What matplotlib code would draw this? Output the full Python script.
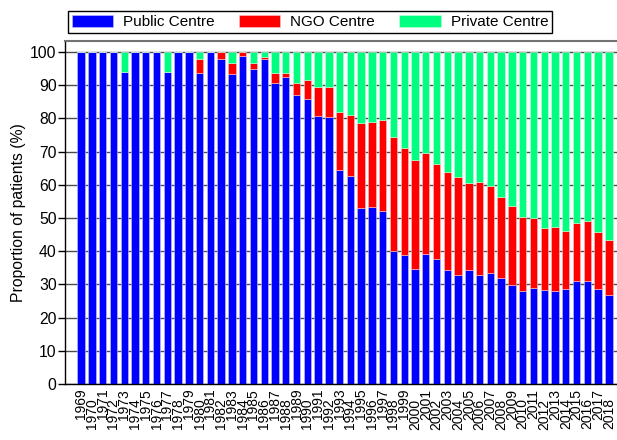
import matplotlib
matplotlib.use("Agg")
import matplotlib.pyplot as plt
import numpy as np

years = list(range(1969, 2019))

# proportion of patients (%) by type of treatment centre
public = [100, 100, 100, 100, 94.1, 100, 100, 100, 94.1, 100,
          100, 93.8, 100, 97.9, 93.5, 98.8, 94.9, 97.9, 90.7, 92.5,
          87.0, 85.8, 80.7, 80.4, 64.5, 62.7, 52.9, 53.3, 52.1, 40.1,
          39.0, 34.5, 39.3, 37.7, 34.2, 32.8, 34.4, 32.8, 33.3, 32.0,
          29.8, 28.1, 28.8, 28.3, 28.0, 28.7, 31.1, 31.1, 28.5, 26.7]
ngo = [0, 0, 0, 0, 0, 0, 0, 0, 0, 0,
       0, 4.0, 0, 2.1, 3.1, 1.2, 1.8, 0.7, 3.0, 1.3,
       3.7, 5.8, 8.7, 9.0, 17.5, 18.3, 25.7, 25.6, 27.4, 34.3,
       32.1, 33.0, 30.3, 28.6, 29.6, 29.5, 26.1, 27.9, 26.2, 24.4,
       23.9, 22.2, 21.1, 18.8, 19.3, 17.4, 17.4, 18.0, 17.3, 16.7]
private = [0, 0, 0, 0, 5.9, 0, 0, 0, 5.9, 0,
           0, 2.2, 0, 0, 3.4, 0, 3.3, 1.4, 6.3, 6.2,
           9.3, 8.4, 10.6, 10.6, 18.0, 19.0, 21.4, 21.1, 20.5, 25.6,
           28.9, 32.5, 30.4, 33.7, 36.2, 37.7, 39.5, 39.3, 40.5, 43.6,
           46.3, 49.7, 50.1, 52.9, 52.7, 53.9, 51.5, 50.9, 54.2, 56.6]

labels = ["Public Centre", "NGO Centre", "Private Centre"]
colors = ["#0000ff", "#ff0000", "#00ff80"]

plt.rcParams["font.family"] = ["Liberation Sans", "DejaVu Sans"]
plt.rcParams["font.size"] = 10

fig = plt.figure(figsize=(6.17, 4.4), dpi=100)
ax = fig.add_axes([65 / 617, 1 - 384 / 440, 560 / 617, 343 / 440])

x = np.arange(len(years))
w = 0.68
pub = np.array(public)
ng = np.array(ngo)
pr = np.array(private)
h1 = ax.bar(x, pub, w, color=colors[0], edgecolor="#c8c8ff", linewidth=0.4, zorder=2)
h2 = ax.bar(x, ng, w, bottom=pub, color=colors[1], edgecolor="#ffc8c8", linewidth=0.4, zorder=2)
h3 = ax.bar(x, pr, w, bottom=pub + ng, color=colors[2], edgecolor="#c8ffe0", linewidth=0.4, zorder=2)

ax.set_xlim(-1.5, len(years) + 0.5)
ax.set_ylim(0, 103.3)
ax.set_yticks(range(0, 101, 10))
ax.yaxis.grid(True, color="0.3", linewidth=1.0, zorder=0)
ax.set_axisbelow(True)
ax.tick_params(axis="y", direction="out", length=5, width=1, pad=1, labelsize=11.3)
ax.tick_params(axis="x", length=0, labelsize=10)

ax.set_xticks(x)
ax.set_xticklabels([str(y) for y in years], rotation=90, va="top", ha="center")
for i, t in enumerate(ax.get_xticklabels()):
    if i % 2 == 1:
        t.set_y(-0.028)

ax.spines["right"].set_visible(False)
ax.spines["top"].set_color("0.45")
ax.spines["top"].set_linewidth(1.5)
ax.spines["left"].set_linewidth(1)
ax.spines["bottom"].set_linewidth(1)

ax.set_ylabel("Proportion of patients (%)", fontsize=11.3, labelpad=3)

leg = fig.legend([h1, h2, h3], labels, loc="upper left",
                 bbox_to_anchor=(68 / 617, 1 - 11 / 440), ncol=3,
                 handlelength=2.7, handleheight=0.8, columnspacing=1.6,
                 handletextpad=0.65, borderpad=0.25, borderaxespad=0,
                 fancybox=False, edgecolor="black", framealpha=1, fontsize=11)
leg.get_frame().set_linewidth(1)

fig.savefig("out.png", dpi=100)
